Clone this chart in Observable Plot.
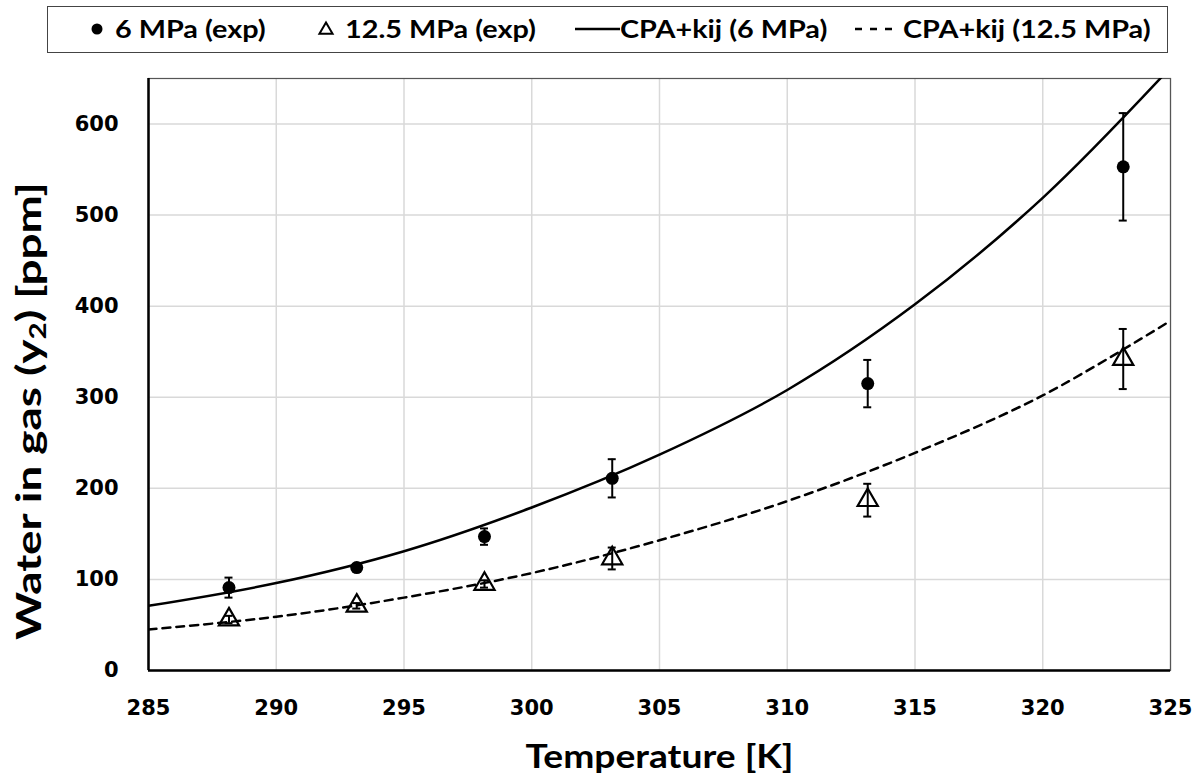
<!DOCTYPE html>
<html>
<head>
<meta charset="utf-8">
<script src="https://cdn.jsdelivr.net/npm/d3@7"></script>
<script src="https://cdn.jsdelivr.net/npm/@observablehq/plot@0.6"></script>
<style>
  body { margin: 0; background: #fff; width: 1199px; height: 781px; overflow: hidden; font-family: "Lato", "Open Sans", sans-serif; }
  #legend { position: relative; margin: 6px 0 0 47px; width: 1119px; height: 45px; border: 1.5px solid #444; box-sizing: content-box; font-weight: 700; font-size: 24px; color: #000; }
  #legend .sym { position: absolute; top: 0; }
  #legend .lab { position: absolute; top: 7px; white-space: nowrap; transform: scaleX(1.2); transform-origin: left center; line-height: 30px; }
  #chart svg { display: block; }
</style>
</head>
<body>
<div id="legend"></div>
<div id="chart"></div>
<script>
// Experimental data
const T_exp = [288.15, 293.15, 298.15, 303.15, 313.15, 323.15];
const y6_exp = [91, 113, 147, 211, 315, 553];
const y6_err = [11, 3, 9, 21, 26, 59];
const y125_exp = [56, 71, 95, 123, 187, 342];
const y125_err = [4, 3, 4, 12, 18, 33];
// Model curves (CPA+kij)
const T_model = [285, 290, 295, 300, 305, 310, 315, 320, 325];
const y6_model = [71, 96, 131, 179, 237, 308, 402, 519, 662];
const y125_model = [45, 59, 80, 107, 143, 186, 239, 302, 384];
// Ticks & labels
const xTicks = [285, 290, 295, 300, 305, 310, 315, 320, 325];
const yTicks = [0, 100, 200, 300, 400, 500, 600];
const xLabel = "Temperature [K]";
const legendLabels = ["6 MPa (exp)", "12.5 MPa (exp)", "CPA+kij (6 MPa)", "CPA+kij (12.5 MPa)"];

const exp6 = T_exp.map((T, i) => ({T, y: y6_exp[i], lo: y6_exp[i] - y6_err[i], hi: y6_exp[i] + y6_err[i]}));
const exp125 = T_exp.map((T, i) => ({T, y: y125_exp[i], lo: y125_exp[i] - y125_err[i], hi: y125_exp[i] + y125_err[i]}));
const mod6 = T_model.map((T, i) => ({T, y: y6_model[i]}));
const mod125 = T_model.map((T, i) => ({T, y: y125_model[i]}));

const tickFont = "'DejaVu Sans', sans-serif";
const capMarks = (data) => [
  Plot.ruleX(data, {x: "T", y1: "lo", y2: "hi", stroke: "#000", strokeWidth: 2}),
  Plot.ruleY(data, {x1: "T", x2: "T", y: "hi", stroke: "#000", strokeWidth: 2, insetLeft: -4, insetRight: -4}),
  Plot.ruleY(data, {x1: "T", x2: "T", y: "lo", stroke: "#000", strokeWidth: 2, insetLeft: -4, insetRight: -4})
];

const chart = Plot.plot({
  width: 1199,
  height: 728,
  marginLeft: 148,
  marginRight: 29,
  marginTop: 25,
  marginBottom: 111,
  style: {fontFamily: tickFont, fontSize: "21px", fontWeight: 700, color: "#000", background: "#fff"},
  x: {domain: [285, 325], ticks: xTicks, tickSize: 0, tickPadding: 30, label: null},
  y: {domain: [0, 650], ticks: yTicks, tickSize: 0, tickPadding: 30, label: null},
  marks: [
    Plot.gridX(xTicks, {stroke: "#d9d9d9", strokeOpacity: 1, strokeWidth: 1.5}),
    Plot.gridY(yTicks, {stroke: "#d9d9d9", strokeOpacity: 1, strokeWidth: 1.5}),
    Plot.frame({stroke: "#555", strokeWidth: 1.2}),
    Plot.ruleX([285], {stroke: "#000", strokeWidth: 2.5}),
    Plot.ruleY([0], {stroke: "#000", strokeWidth: 2.5}),
    Plot.line(mod6, {x: "T", y: "y", curve: "catmull-rom", stroke: "#000", strokeWidth: 2.5, clip: true}),
    Plot.line(mod125, {x: "T", y: "y", curve: "catmull-rom", stroke: "#000", strokeWidth: 2.5, strokeDasharray: "8,6", clip: true}),
    ...capMarks(exp6),
    ...capMarks(exp125),
    Plot.dot(exp6, {x: "T", y: "y", r: 6.5, fill: "#000", stroke: "none"}),
    Plot.dot(exp125, {x: "T", y: "y", symbol: "triangle", r: 7.5, fill: "none", stroke: "#000", strokeWidth: 2.2}),
    Plot.text([xLabel], {frameAnchor: "bottom", dy: 97, fontSize: 33, fontWeight: 700, fontFamily: "Lato, sans-serif", fill: "#000"})
  ]
});
document.getElementById("chart").appendChild(chart);

const svg = d3.select(chart);
// stretch x title to the reference width
svg.selectAll("text").filter(function() { return this.textContent === xLabel; })
  .attr("textLength", 268).attr("lengthAdjust", "spacingAndGlyphs");

// Y-axis title with subscript
const yt = svg.append("text")
  .attr("transform", "translate(32,358) rotate(-90)")
  .attr("text-anchor", "middle")
  .attr("dominant-baseline", "middle")
  .attr("font-family", "Lato, sans-serif")
  .attr("font-size", 34)
  .attr("font-weight", 700)
  .attr("fill", "#000")
  .attr("textLength", 458)
  .attr("lengthAdjust", "spacingAndGlyphs");
yt.append("tspan").text("Water in gas (y");
yt.append("tspan").attr("font-size", 22).attr("dy", 8).text("2");
yt.append("tspan").attr("dy", -8).text(") [ppm]");

// Legend (positions relative to legend box)
const legend = d3.select("#legend");
function sym(left, w, draw) {
  const s = legend.append("svg").attr("class", "sym").style("left", left + "px").attr("width", w).attr("height", 45);
  draw(s);
}
function lab(left, text) {
  legend.append("span").attr("class", "lab").style("left", left + "px").text(text);
}
sym(40, 18, s => s.append("circle").attr("cx", 9).attr("cy", 22).attr("r", 5.5).attr("fill", "#000"));
lab(67, legendLabels[0]);
sym(269, 18, s => s.append("path").attr("d", d3.symbol(d3.symbolTriangle, 75)()).attr("transform", "translate(9,23)").attr("fill", "none").attr("stroke", "#000").attr("stroke-width", 2));
lab(297, legendLabels[1]);
sym(526, 46, s => s.append("line").attr("x1", 1).attr("x2", 46).attr("y1", 22).attr("y2", 22).attr("stroke", "#000").attr("stroke-width", 2.5));
lab(572, legendLabels[2]);
sym(806, 46, s => s.append("line").attr("x1", 1).attr("x2", 46).attr("y1", 22).attr("y2", 22).attr("stroke", "#000").attr("stroke-width", 2.5).attr("stroke-dasharray", "7,8"));
lab(855, legendLabels[3]);
</script>
</body>
</html>
